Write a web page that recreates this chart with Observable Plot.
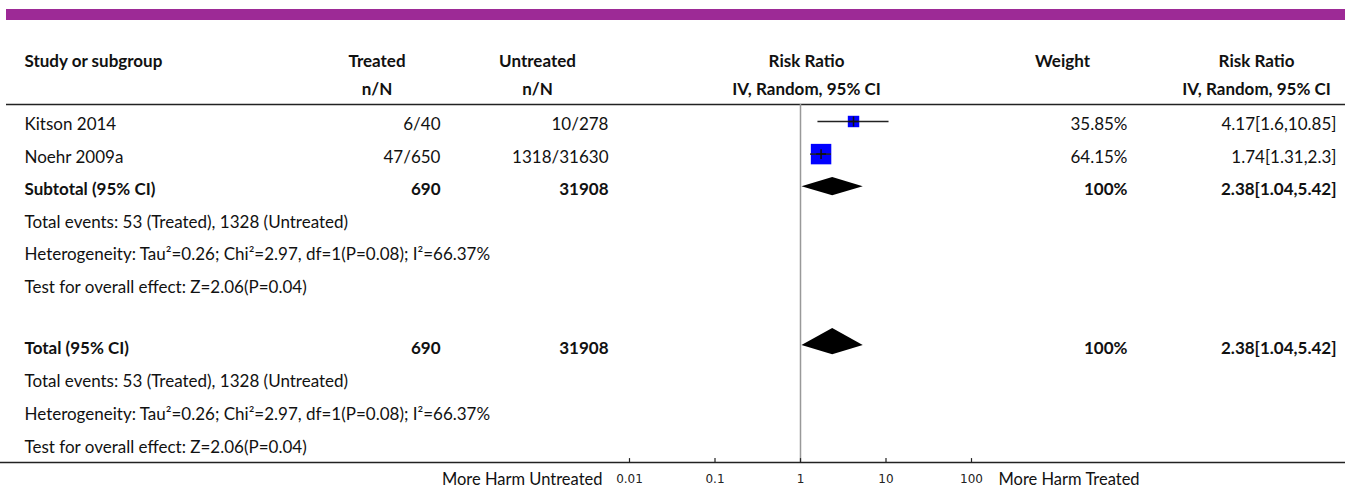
<!DOCTYPE html>
<html><head><meta charset="utf-8">
<script src="https://cdn.jsdelivr.net/npm/d3@7"></script>
<script src="https://cdn.jsdelivr.net/npm/@observablehq/plot@0.6"></script>
<style>
body{margin:0;background:#fff;}
#wrap{position:relative;width:1359px;height:490px;overflow:hidden;}
#bar{position:absolute;left:6px;top:9px;width:1339px;height:11px;background:#9d2a96;}
</style></head><body><div id="wrap"><div id="bar"></div></div>
<script>
// ---- data ----
const studies = ["Kitson 2014", "Noehr 2009a"];
const treatedNN = ["6/40", "47/650"];
const untreatedNN = ["10/278", "1318/31630"];
const rr = [4.17, 1.74];
const rrLow = [1.6, 1.31];
const rrHigh = [10.85, 2.3];
const weights = [35.85, 64.15];
const weightLabels = ["35.85%", "64.15%"];
const rrLabels = ["4.17[1.6,10.85]", "1.74[1.31,2.3]"];
const pooledRR = 2.38, pooledLow = 1.04, pooledHigh = 5.42;
const pooledLabel = "2.38[1.04,5.42]";
const totalTreated = "690", totalUntreated = "31908", totalWeight = "100%";
const summaryLines = [
  "Total events: 53 (Treated), 1328 (Untreated)",
  "Heterogeneity: Tau\u00b2=0.26; Chi\u00b2=2.97, df=1(P=0.08); I\u00b2=66.37%",
  "Test for overall effect: Z=2.06(P=0.04)"
];
const groupLabels = ["Subtotal (95% CI)", "Total (95% CI)"];
const axisTicks = [0.01, 0.1, 1, 10, 100];
const tickLabels = ["0.01", "0.1", "1", "10", "100"];
const headerTop = ["Study or subgroup", "Treated", "Untreated", "Risk Ratio", "Weight", "Risk Ratio"];
const headerSub = ["", "n/N", "n/N", "IV, Random, 95% CI", "", "IV, Random, 95% CI"];
const favourLabels = ["More Harm Untreated", "More Harm Treated"];

// ---- layout ----
const FONT = "Lato";
const FS = 17;
const col = {study: 24, treated: 440, untreated: 608, weight: 1127, rrText: 1336,
             hTreated: 376.5, hUntreated: 537, hRR: 806, hWeight: 1062, hRRText: 1256};

const studyRows = studies.map((s, i) => ({row: i, study: s, t: treatedNN[i], u: untreatedNN[i],
  rr: rr[i], lo: rrLow[i], hi: rrHigh[i], w: weights[i], wl: weightLabels[i], rl: rrLabels[i]}));
const groups = [{row: 2, label: groupLabels[0]}, {row: 6, label: groupLabels[1]}];
const summaryRows = [3, 7].flatMap(start => summaryLines.map((t, k) => ({row: start + k, text: t})));
const diamondPts = groups.flatMap(g => [
  {row: g.row, x: pooledLow, y1: g.row, y2: g.row},
  {row: g.row, x: pooledRR, y1: g.row - 0.28, y2: g.row + 0.28},
  {row: g.row, x: pooledHigh, y1: g.row, y2: g.row}
]);

const txt = (data, opts) => Plot.text(data, {frameAnchor: "left", fontFamily: FONT, fontSize: FS, fill: "#111", ...opts});

const chart = Plot.plot({
  width: 1359, height: 490, margin: 0,
  style: {fontFamily: FONT, fontSize: FS + "px", background: "transparent"},
  x: {type: "log", domain: [0.01, 100], range: [629, 971], axis: null},
  y: {type: "linear", domain: [-2, -1, -0.5, 0, 5, 6, 9, 9.5, 10], range: [61, 89, 104, 124, 287, 348, 447, 462, 479], axis: null},
  r: {type: "linear", domain: [0, 100], range: [0, 18]},
  marks: [
    // header
    txt([headerTop[0]], {y: -2, text: d => d, dx: col.study, textAnchor: "start", fontWeight: "bold"}),
    txt([headerTop[1]], {y: -2, text: d => d, dx: col.hTreated, textAnchor: "middle", fontWeight: "bold"}),
    txt([headerTop[2]], {y: -2, text: d => d, dx: col.hUntreated, textAnchor: "middle", fontWeight: "bold"}),
    txt([headerTop[3]], {y: -2, text: d => d, dx: col.hRR, textAnchor: "middle", fontWeight: "bold"}),
    txt([headerTop[4]], {y: -2, text: d => d, dx: col.hWeight, textAnchor: "middle", fontWeight: "bold"}),
    txt([headerTop[5]], {y: -2, text: d => d, dx: col.hRRText, textAnchor: "middle", fontWeight: "bold"}),
    txt([headerSub[1]], {y: -1, text: d => d, dx: col.hTreated, textAnchor: "middle", fontWeight: "bold"}),
    txt([headerSub[2]], {y: -1, text: d => d, dx: col.hUntreated, textAnchor: "middle", fontWeight: "bold"}),
    txt([headerSub[3]], {y: -1, text: d => d, dx: col.hRR, textAnchor: "middle", fontWeight: "bold"}),
    txt([headerSub[5]], {y: -1, text: d => d, dx: col.hRRText, textAnchor: "middle", fontWeight: "bold"}),
    Plot.ruleY([-0.5], {stroke: "#222", strokeWidth: 1.5, insetLeft: 6, insetRight: 14}),
    // studies
    txt(studyRows, {y: "row", text: "study", dx: col.study, textAnchor: "start"}),
    txt(studyRows, {y: "row", text: "t", dx: col.treated, textAnchor: "end"}),
    txt(studyRows, {y: "row", text: "u", dx: col.untreated, textAnchor: "end"}),
    txt(studyRows, {y: "row", text: "wl", dx: col.weight, textAnchor: "end"}),
    txt(studyRows, {y: "row", text: "rl", dx: col.rrText, textAnchor: "end"}),
    // groups
    txt(groups, {y: "row", text: "label", dx: col.study, textAnchor: "start", fontWeight: "bold"}),
    txt(groups, {y: "row", text: () => totalTreated, dx: col.treated, textAnchor: "end", fontWeight: "bold"}),
    txt(groups, {y: "row", text: () => totalUntreated, dx: col.untreated, textAnchor: "end", fontWeight: "bold"}),
    txt(groups, {y: "row", text: () => totalWeight, dx: col.weight, textAnchor: "end", fontWeight: "bold"}),
    txt(groups, {y: "row", text: () => pooledLabel, dx: col.rrText, textAnchor: "end", fontWeight: "bold"}),
    txt(summaryRows, {y: "row", text: "text", dx: col.study, textAnchor: "start"}),
    // forest
    Plot.ruleX([1], {y1: -0.5, y2: 9.5, stroke: "#999", strokeWidth: 1.5}),
    Plot.dot(studyRows, {x: "rr", y: "row", r: "w", symbol: "square", fill: "#0000ff", stroke: "none", dy: -3}),
    Plot.ruleY(studyRows, {y: "row", x1: "lo", x2: "hi", stroke: "#222", strokeWidth: 1.5, dy: -3}),
    Plot.dot(studyRows, {x: "rr", y: "row", r: 3.3, symbol: "plus", stroke: "#111", strokeWidth: 1.5, dy: -3}),
    Plot.area(diamondPts, {x1: "x", y1: "y1", y2: "y2", z: "row", fill: "#000", dy: -3}),
    // axis
    Plot.ruleY([9.5], {stroke: "#222", strokeWidth: 1.5, insetLeft: 0, insetRight: 14}),
    Plot.ruleX(axisTicks, {x: d => d, y1: 9.37, y2: 9.5, stroke: "#222", strokeWidth: 1.2}),
    Plot.text(axisTicks, {x: d => d, y: 10, text: (d, i) => tickLabels[i], fontFamily: "DejaVu Sans", fontSize: 12, fill: "#222"}),
    txt([favourLabels[0]], {y: 10, text: d => d, dx: 602, textAnchor: "end", fontSize: 16.5}),
    txt([favourLabels[1]], {y: 10, text: d => d, dx: 998, textAnchor: "start", fontSize: 16.5})
  ]
});
document.getElementById("wrap").prepend(chart);
</script>
</body></html>
